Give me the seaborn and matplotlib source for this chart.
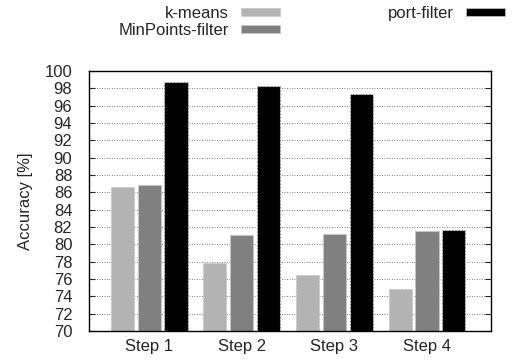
import matplotlib
matplotlib.use("Agg")
import matplotlib.pyplot as plt
import seaborn as sns
import pandas as pd

steps = ["Step 1", "Step 2", "Step 3", "Step 4"]
methods = ["k-means", "MinPoints-filter", "port-filter"]
kmeans = [86.6, 77.8, 76.5, 74.8]
minpoints = [86.8, 81.1, 81.2, 81.5]
portfilter = [98.7, 98.3, 97.3, 81.6]
colors = ["#b3b3b3", "#808080", "#000000"]

df = pd.DataFrame({
    "step": steps * 3,
    "method": [m for m in methods for _ in steps],
    "acc": kmeans + minpoints + portfilter,
})

sns.set_style("ticks")
plt.rcParams["font.family"] = ["Liberation Sans", "DejaVu Sans"]

fig, ax = plt.subplots(figsize=(5.14, 3.64), dpi=100)
fig.subplots_adjust(left=0.173, right=0.955, top=0.805, bottom=0.091)

sns.barplot(data=df, x="step", y="acc", hue="method", hue_order=methods,
            palette=colors, width=0.87, gap=0.14, ax=ax, legend=False,
            edgecolor="#c8c8c8", linewidth=0.8, linestyle=(0, (2, 1)))

ax.set_ylim(70, 100)
ax.set_xlim(-0.65, 3.69)
ax.set_yticks(range(70, 101, 2))
ax.yaxis.grid(True, linestyle=(0, (1, 2)), color="#555555", linewidth=0.6)
ax.set_axisbelow(True)
ax.tick_params(axis="y", direction="in", length=4, right=True, labelsize=12, pad=12)
ax.tick_params(axis="x", length=0, labelsize=12, pad=6)
for s in ax.spines.values():
    s.set_linewidth(1.0)
    s.set_color("black")
ax.set_xlabel("")
ax.set_ylabel("Accuracy [%]", fontsize=12, labelpad=8)

handles = [plt.Rectangle((0, 0), 1, 1, facecolor=c, edgecolor="#c8c8c8", linewidth=0.5)
           for c in colors]
fig.legend(handles, methods, loc="upper right", bbox_to_anchor=(1.012, 1.025),
           ncol=2, markerfirst=False, frameon=False, fontsize=12,
           handlelength=2.35, handleheight=0.35, handletextpad=0.7,
           columnspacing=6.5, labelspacing=0.1)

fig.savefig("out.png", dpi=100)
